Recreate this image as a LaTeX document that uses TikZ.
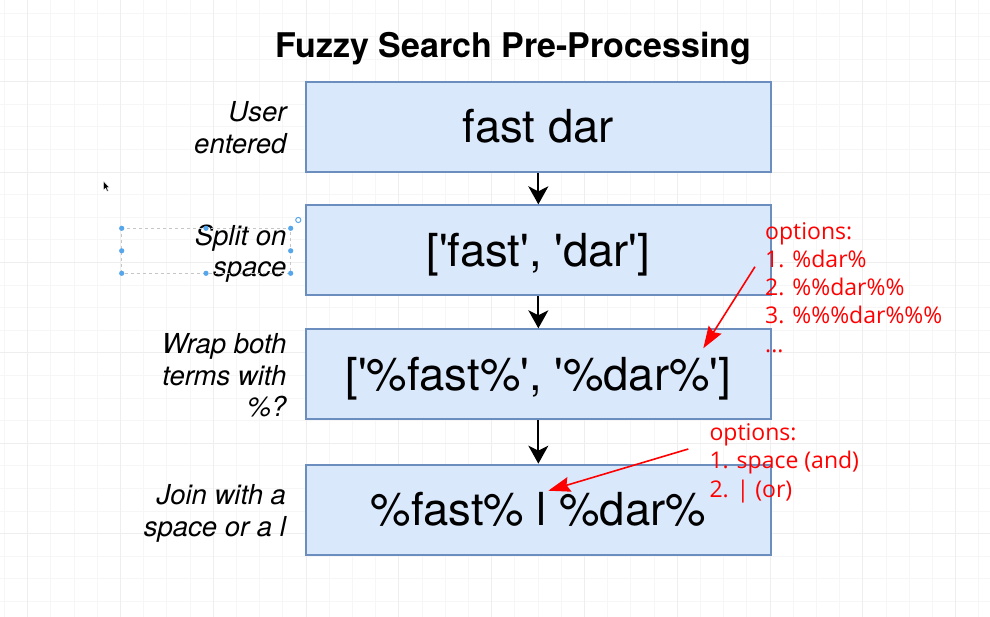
\documentclass[tikz,border=0pt]{standalone}
\usepackage{fontspec}
\setmainfont{TeX Gyre Heros}
\newfontfamily\redfont{Open Sans}
\usetikzlibrary{arrows.meta}
\definecolor{boxfill}{HTML}{DAE8FC}
\definecolor{boxline}{HTML}{6C8EBF}
\definecolor{gridminor}{HTML}{F6F6F6}
\definecolor{gridmajor}{HTML}{EEEEEE}
\definecolor{annred}{HTML}{FF0000}
\definecolor{selblue}{HTML}{55A6EA}
\newcommand{\sq}{\textquotesingle}
\begin{document}
\begin{tikzpicture}[x=1pt,y=-1pt,
  stepbox/.style={draw=boxline, fill=boxfill, line width=2pt, minimum width=464.7pt, minimum height=90pt, inner sep=0pt,
    font=\fontsize{45.5}{50}\selectfont, text height=32pt, text depth=0pt},
  flowarrow/.style={line width=2pt, -{Stealth[length=18pt,width=20pt,inset=5pt]}},
  annarrow/.style={draw=annred, line width=1.6pt, -{Stealth[length=22pt,width=15pt,inset=3pt]}},
  sidelabel/.style={anchor=base east, align=right, inner sep=0pt, font=\fontsize{27.5}{31.6}\selectfont\itshape},
  annotext/.style={anchor=base west, align=left, inner sep=0pt, text=annred, font=\redfont\fontsize{23}{28.2}\selectfont},
  seldot/.style={fill=selblue, draw=none}
]
\useasboundingbox (0,0) rectangle (990,617);
\fill[white] (0,0) rectangle (990,617);
% background grid
\foreach \k in {0,...,42} \draw[gridminor, line width=1pt] ({4.4+23.2*\k},0) -- ({4.4+23.2*\k},617);
\foreach \k in {0,...,27} \draw[gridminor, line width=1pt] (0,{13.9+22.6*\k}) -- (990,{13.9+22.6*\k});
\foreach \k in {1,5,...,41} \draw[gridmajor, line width=1pt] ({4.4+23.2*\k},0) -- ({4.4+23.2*\k},617);
\foreach \k in {3,7,...,27} \draw[gridmajor, line width=1pt] (0,{13.9+22.6*\k}) -- (990,{13.9+22.6*\k});

% title
\node[anchor=base, inner sep=0pt, font=\fontsize{34}{40}\selectfont\bfseries] (title) at (513.5,58) {Fuzzy Search Pre-Processing};

% boxes
\node[stepbox] (b1) at (538.35,126.7) {fast dar};
\node[stepbox] (b2) at (538.35,250.35) {[\sq fast\sq, \sq dar\sq]};
\node[stepbox] (b3) at (538.35,374.3) {[\sq\%fast\%\sq, \sq\%dar\%\sq]};
\node[stepbox] (b4) at (538.35,509.65) {\%fast\% l \%dar\%};

\draw[flowarrow] (b1.south) -- (b2.north);
\draw[flowarrow] (b2.south) -- (b3.north);
\draw[flowarrow] (b3.south) -- (b4.north);

% side labels (base = baseline of last line)
\node[sidelabel] (l1) at (286.7,153.3) {User\\entered};
\node[sidelabel] (l2) at (286.7,276.7) {Split on\\space};
\node[sidelabel] (l3) at (286.7,416.7) {Wrap both\\terms with\\\%?};
\node[sidelabel] (l4) at (286.2,536) {Join with a\\space or a l};

% selection handles around "Split on space"
\draw[gray!45, dashed, line width=0.6pt] (121.7,228.3) rectangle (290.7,273.3);
\foreach \p in {(121.7,228.3),(206,228.3),(290.7,228.3),(121.7,250.8),(290.7,250.8),(121.7,273.3),(206,273.3),(290.7,273.3)}
  \fill[seldot] \p circle (2.6pt);
\draw[selblue, line width=1pt] (298.3,220) circle (2.6pt);

% mouse cursor
\filldraw[fill=black, draw=white, line width=0.4pt] (103.5,181.2) -- (103.5,190.2) -- (105.6,188.2) -- (107.1,191.3) -- (108.4,190.7) -- (106.9,187.7) -- (109.8,187.6) -- cycle;

% annotations (base = baseline of last line)
\node[annotext] (o1) at (765,352.1) {options:\\1. \%dar\%\\2. \%\%dar\%\%\\3. \%\%\%dar\%\%\%\\...};
\node[annotext] (o2) at (709.3,497.1) {options:\\1. space (and)\\2. | (or)};
\coordinate (a1s) at (755,266.7);
\coordinate (a1e) at (703.3,348.3);
\coordinate (a2s) at (688.3,449);
\coordinate (a2e) at (548.3,490.7);
\draw[annarrow] (a1s) -- (a1e);
\draw[annarrow] (a2s) -- (a2e);
\end{tikzpicture}
\end{document}
